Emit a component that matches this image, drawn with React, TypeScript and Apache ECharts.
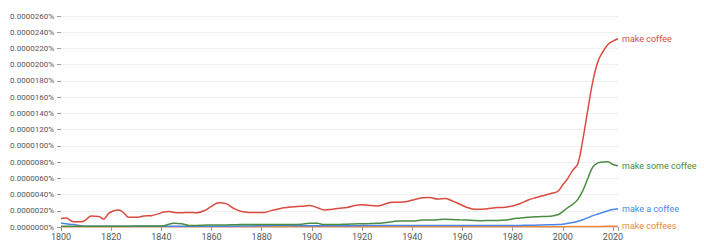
import React, { useEffect, useRef } from "react";
import * as echarts from "echarts";

// Values are in units of 0.0000001 % (1e-7 percent)
const years = [
  1800, 1802, 1805, 1808, 1810, 1812, 1815, 1817, 1819, 1821,
  1823, 1825, 1827, 1830, 1833, 1836, 1839, 1841, 1843, 1845,
  1848, 1851, 1854, 1857, 1860, 1863, 1866, 1869, 1872, 1875,
  1878, 1881, 1884, 1887, 1890, 1893, 1896, 1899, 1902, 1905,
  1908, 1911, 1914, 1917, 1920, 1923, 1926, 1929, 1932, 1935,
  1938, 1941, 1944, 1947, 1950, 1953, 1956, 1959, 1962, 1965,
  1968, 1971, 1974, 1977, 1980, 1983, 1986, 1989, 1992, 1995,
  1998, 2000, 2002, 2004, 2006, 2008, 2010, 2012, 2014, 2016,
  2018, 2020, 2022,
];

const makeCoffee = [
  10.5, 11, 6.6, 6.5, 9, 13.5, 13, 10, 16.8, 20,
  21, 17.5, 12, 12, 13.5, 14, 16.5, 18.5, 19, 18,
  17.5, 18, 17.5, 20, 25.5, 30, 28.5, 22.6, 19, 18,
  18, 18, 20.5, 22.6, 24, 25, 25.5, 26.5, 24, 21,
  22, 23, 24, 26.5, 27.5, 26.5, 26, 28, 30.5, 30.5,
  31.5, 34, 36, 36.5, 34.5, 35, 32, 28, 24, 21.8,
  22, 23, 24, 24.4, 26, 29, 33, 36, 38.5, 41,
  44, 52, 60, 70, 78, 108, 145, 180, 204, 216,
  225, 229, 232,
];

const makeSomeCoffee = [
  0.8, 0.8, 0.8, 0.8, 0.8, 0.8, 1, 1, 1, 1,
  1, 1, 1, 1.2, 1.2, 1.2, 1.2, 1.5, 3.5, 4.5,
  4, 2, 2, 2.2, 2.5, 2.5, 2.5, 2.8, 3, 3,
  3, 3.2, 3.2, 3, 3, 3, 3.5, 4.5, 4.5, 3,
  3, 3.2, 3.5, 3.8, 4, 4.2, 4.5, 5.3, 6.5, 7.5,
  7.5, 7.5, 8.5, 8.5, 9, 9.5, 9.2, 8.8, 8.5, 8,
  7.8, 8, 8, 8.5, 10, 11, 12, 12.5, 13, 13.3,
  15, 19, 24, 28, 34, 45, 60, 74, 79, 80,
  80.5, 77, 75.5,
];

const makeACoffee = [
  5, 4, 3, 1.5, 1, 0.8, 0.8, 0.8, 0.8, 0.8,
  0.8, 0.8, 0.8, 0.8, 0.8, 0.8, 0.8, 0.8, 1, 1,
  1, 1, 1, 1, 1, 1, 1, 1, 1.2, 1.2,
  1.5, 1.5, 1.8, 2, 2, 1.5, 1.5, 1.5, 1.5, 1.5,
  1.5, 1.5, 1.5, 1.5, 1.8, 1.8, 1.8, 1.8, 1.8, 1.8,
  1.8, 1.8, 1.8, 1.8, 1.8, 1.8, 1.8, 1.8, 1.8, 1.8,
  1.8, 1.8, 1.8, 1.8, 2, 2, 2.2, 2.3, 2.5, 2.8,
  3, 3.5, 4.5, 5.5, 7, 9, 11.5, 14, 16, 18,
  20, 21.5, 22.5,
];

const makeCoffees = [
  0.3, 0.3, 0.3, 0.3, 0.3, 0.3, 0.3, 0.3, 0.3, 0.3,
  0.3, 0.3, 0.3, 0.3, 0.3, 0.3, 0.3, 0.3, 0.3, 0.3,
  0.3, 0.3, 0.3, 0.3, 0.3, 0.3, 0.3, 0.3, 0.3, 0.3,
  0.3, 0.3, 0.3, 0.3, 0.3, 0.3, 0.3, 0.3, 0.3, 0.3,
  0.3, 0.3, 0.3, 0.3, 0.3, 0.3, 0.3, 0.3, 0.3, 0.3,
  0.3, 0.3, 0.3, 0.3, 0.3, 0.3, 0.3, 0.3, 0.3, 0.3,
  0.3, 0.3, 0.3, 0.3, 0.3, 0.3, 0.3, 0.3, 0.4, 0.4,
  0.4, 0.4, 0.5, 0.5, 0.5, 0.6, 0.6, 0.7, 0.7, 0.8,
  0.8, 0.8, 0.8,
];

const seriesNames = ["make coffee", "make some coffee", "make a coffee", "make coffees"];
const seriesColors = ["#db4a3f", "#4a8c41", "#4a86e8", "#f2883a"];
const seriesValues = [makeCoffee, makeSomeCoffee, makeACoffee, makeCoffees];

export default function App() {
  const ref = useRef<HTMLDivElement>(null);

  useEffect(() => {
    document.body.style.margin = "0";
    if (!ref.current) return;
    const chart = echarts.init(ref.current, null, { renderer: "svg" });
    const font = "Roboto, 'Noto Sans', sans-serif";
    chart.setOption({
      animation: false,
      grid: { left: 61, right: 86, top: 16, bottom: 18, containLabel: false },
      xAxis: {
        type: "value",
        min: 1800,
        max: 2022,
        interval: 20,
        axisLine: { show: true, lineStyle: { color: "#dddddd", width: 1 } },
        axisTick: { show: true, length: 4, lineStyle: { color: "#999999" } },
        splitLine: { show: false },
        axisLabel: {
          formatter: (v: number) => (v % 20 === 0 ? String(v) : ""),
          color: "#555555",
          fontSize: 9,
          fontFamily: font,
          margin: 5,
        },
      },
      yAxis: {
        type: "value",
        min: 0,
        max: 260,
        interval: 20,
        axisLine: { show: false },
        axisTick: { show: true, length: 4, lineStyle: { color: "#999999" } },
        splitLine: { show: true, lineStyle: { color: "#f0f0f0", width: 1 } },
        axisLabel: {
          formatter: (v: number) => (v / 1e7).toFixed(7) + "%",
          color: "#555555",
          fontSize: 8,
          fontFamily: font,
          margin: 7,
        },
      },
      series: seriesNames.map((name, i) => ({
        name,
        type: "line",
        data: years.map((y, j) => [y, seriesValues[i][j]]),
        smooth: 0.4,
        showSymbol: false,
        symbol: "none",
        lineStyle: { color: seriesColors[i], width: 1.5 },
        itemStyle: { color: seriesColors[i] },
        endLabel: {
          show: true,
          formatter: "{a}",
          color: seriesColors[i],
          fontSize: 9,
          fontFamily: font,
          distance: 4,
        },
        z: 10 - i,
      })),
    });
    return () => chart.dispose();
  }, []);

  return <div ref={ref} style={{ width: 704, height: 245 }} />;
}
